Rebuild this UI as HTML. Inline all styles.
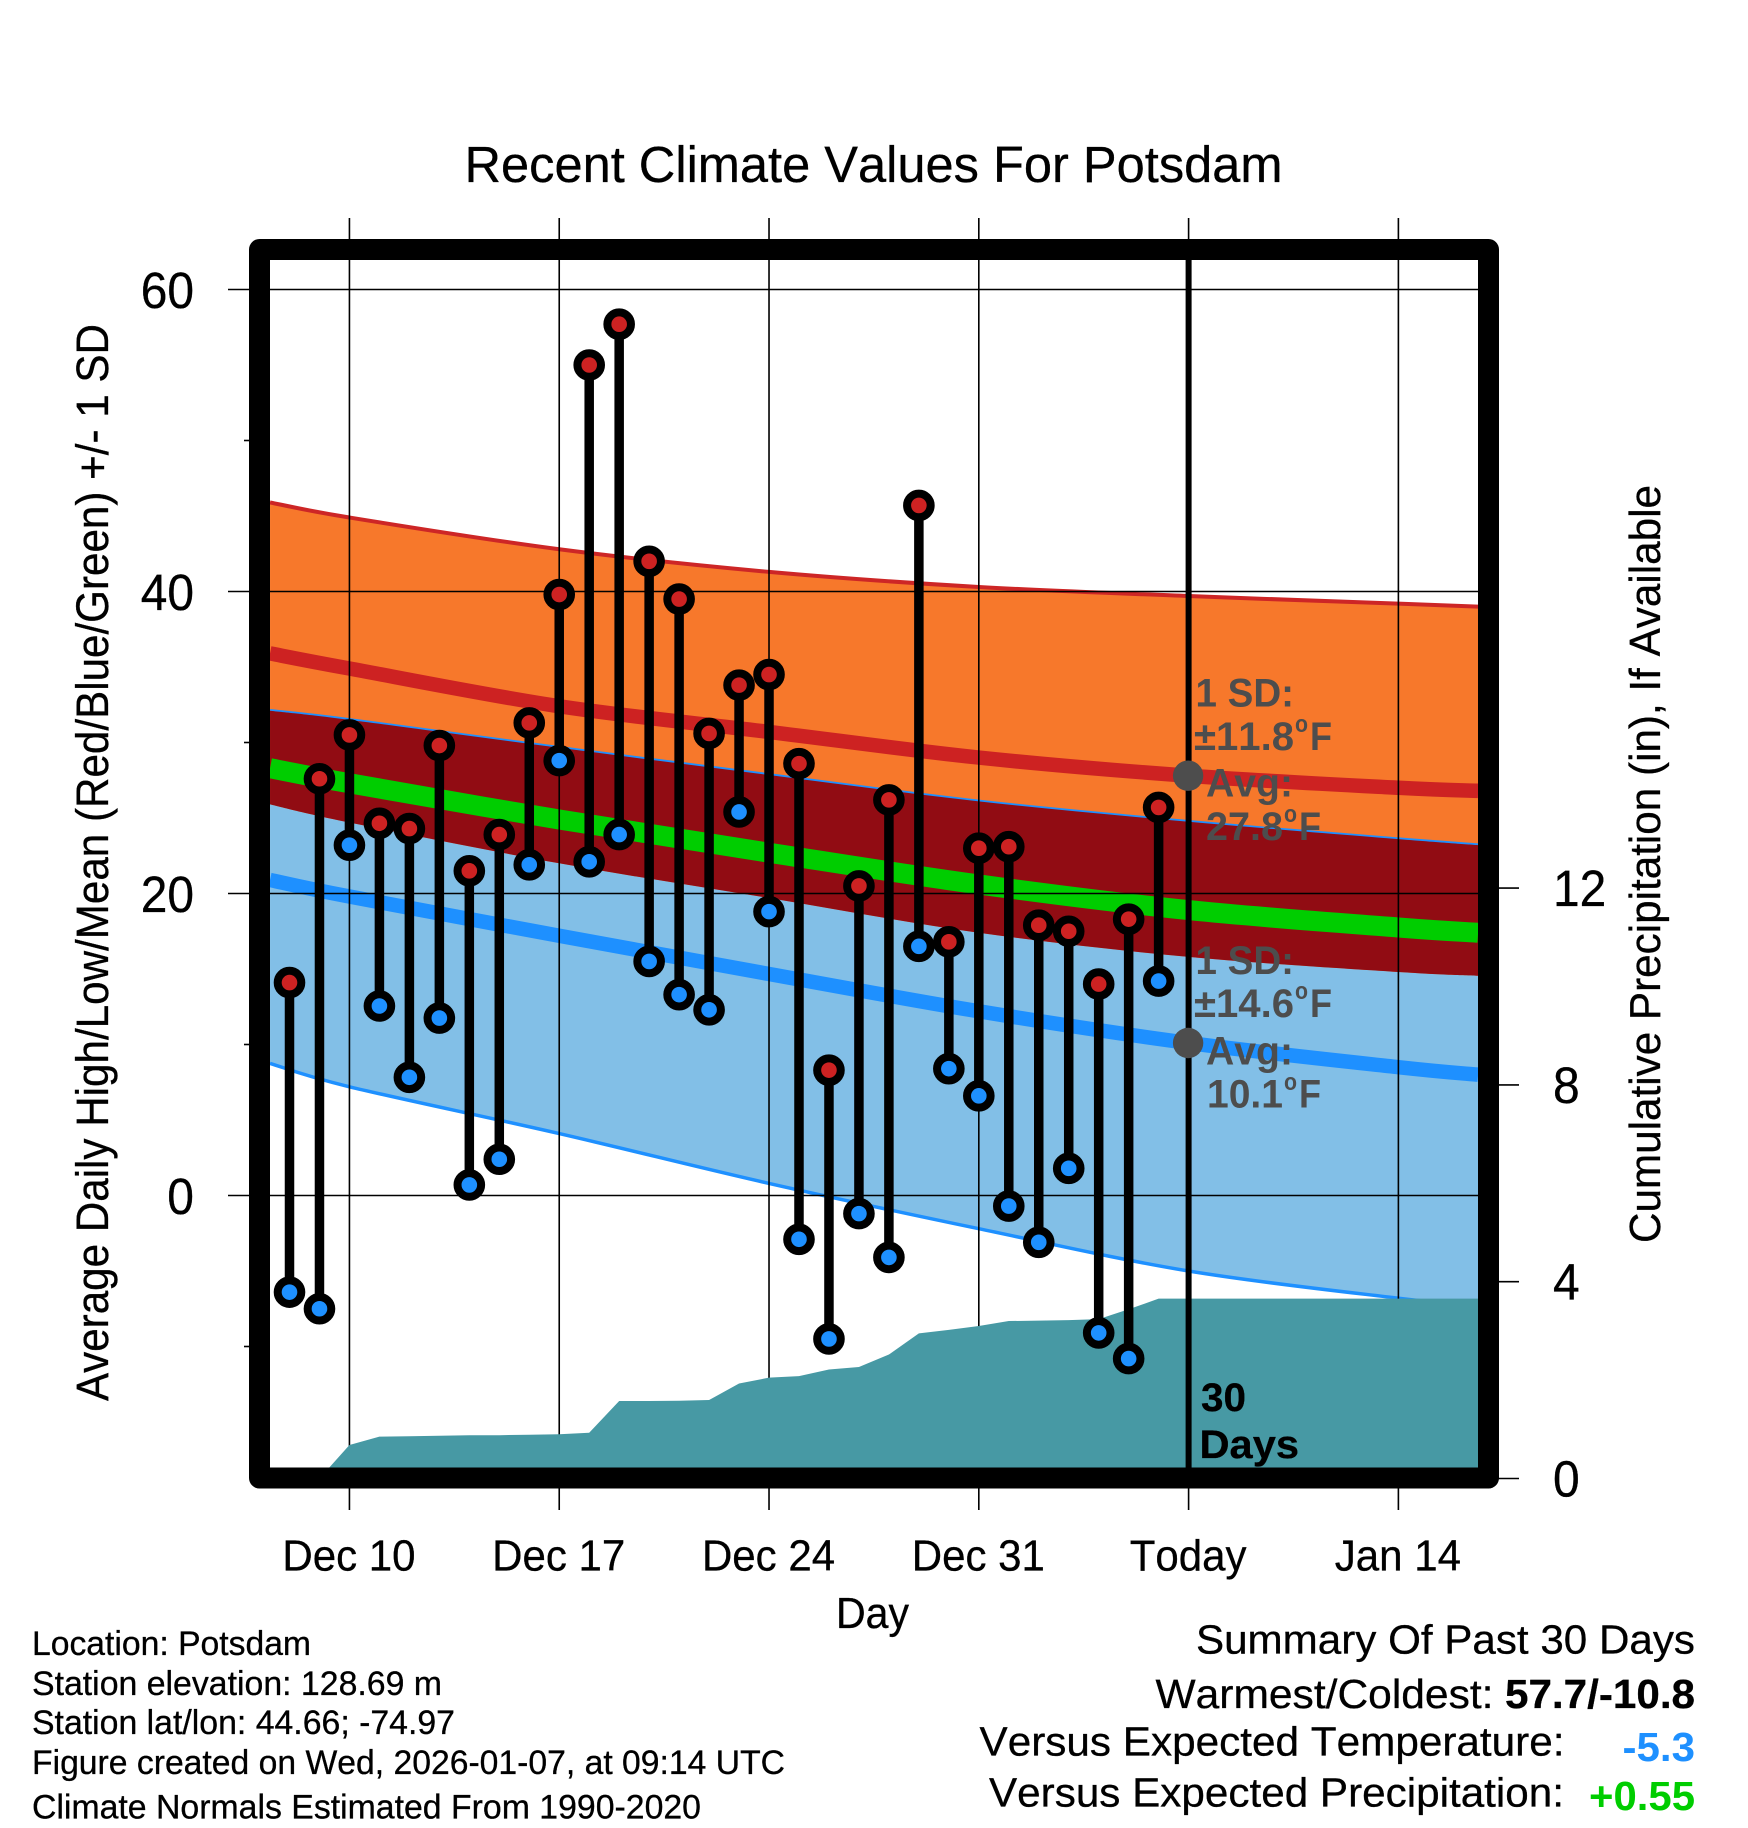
<!DOCTYPE html>
<html lang="en">
<head>
<meta charset="utf-8">
<title>Recent Climate Values For Potsdam</title>
<style>
html,body{margin:0;padding:0;background:#fff;width:1748px;height:1828px;overflow:hidden}
svg{display:block;position:absolute;left:0;top:0}
text{font-family:"Liberation Sans",sans-serif;fill:#000;font-kerning:none;stroke:#000;stroke-width:.3px}
.ann{font-weight:bold;fill:#4d4d4d;stroke:none;font-size:40px}
.sup{font-weight:bold;fill:#4d4d4d;stroke:none;font-size:24px}
.foot{font-size:34px}
.sum{font-size:41px}
</style>
</head>
<body>
<svg id="chart" xmlns="http://www.w3.org/2000/svg" width="1748" height="1828" viewBox="0 0 1748 1828">
  <defs>
    <clipPath id="plot-clip"><rect x="270" y="260" width="1208" height="1207.7"/></clipPath>
  </defs>
  <rect x="0" y="0" width="1748" height="1828" fill="#fff"/>
  <text x="464.5" y="182" font-size="51" textLength="818" lengthAdjust="spacingAndGlyphs">Recent Climate Values For Potsdam</text>

  <g id="layer-bands" clip-path="url(#plot-clip)"></g>
  <g id="layer-grid"></g>
  <g id="layer-precip" clip-path="url(#plot-clip)"></g>
  <g id="layer-today"></g>
  <g id="layer-points"></g>
  <rect x="259.5" y="249.5" width="1229" height="1228.5" fill="none" stroke="#000" stroke-width="21" stroke-linejoin="round"/>
  <g id="layer-ticks"></g>

  <text transform="translate(108,1401) rotate(-90)" x="0" y="0" font-size="45" textLength="1077" lengthAdjust="spacingAndGlyphs">Average Daily High/Low/Mean (Red/Blue/Green) +/- 1 SD</text>
  <text transform="translate(1660,1243) rotate(-90)" x="0" y="0" font-size="44" textLength="758" lengthAdjust="spacingAndGlyphs">Cumulative Precipitation (in), If Available</text>
  <text x="836" y="1628" font-size="44" textLength="73" lengthAdjust="spacingAndGlyphs">Day</text>

  <g>
    <text class="ann" x="1195.5" y="706.7" textLength="98.5" lengthAdjust="spacingAndGlyphs">1 SD:</text>
    <text class="ann" x="1194" y="750" textLength="100" lengthAdjust="spacingAndGlyphs">±11.8</text>
    <text class="sup" x="1295" y="732" textLength="13" lengthAdjust="spacingAndGlyphs">o</text>
    <text class="ann" x="1310" y="750" textLength="22" lengthAdjust="spacingAndGlyphs">F</text>
    <text class="ann" x="1206" y="796.7" textLength="87" lengthAdjust="spacingAndGlyphs">Avg:</text>
    <text class="ann" x="1206" y="840" textLength="77" lengthAdjust="spacingAndGlyphs">27.8</text>
    <text class="sup" x="1284" y="822" textLength="13" lengthAdjust="spacingAndGlyphs">o</text>
    <text class="ann" x="1299" y="840" textLength="22" lengthAdjust="spacingAndGlyphs">F</text>
  </g>
  <g>
    <text class="ann" x="1195.5" y="974" textLength="98.5" lengthAdjust="spacingAndGlyphs">1 SD:</text>
    <text class="ann" x="1194" y="1017" textLength="100" lengthAdjust="spacingAndGlyphs">±14.6</text>
    <text class="sup" x="1295" y="999" textLength="13" lengthAdjust="spacingAndGlyphs">o</text>
    <text class="ann" x="1310" y="1017" textLength="22" lengthAdjust="spacingAndGlyphs">F</text>
    <text class="ann" x="1206" y="1064.3" textLength="87" lengthAdjust="spacingAndGlyphs">Avg:</text>
    <text class="ann" x="1207" y="1107.7" textLength="76" lengthAdjust="spacingAndGlyphs">10.1</text>
    <text class="sup" x="1284" y="1090" textLength="13" lengthAdjust="spacingAndGlyphs">o</text>
    <text class="ann" x="1299" y="1107.7" textLength="22" lengthAdjust="spacingAndGlyphs">F</text>
  </g>
  <text x="1201" y="1411" font-size="40" font-weight="bold" textLength="45" lengthAdjust="spacingAndGlyphs">30</text>
  <text x="1199.5" y="1458" font-size="40" font-weight="bold" textLength="99.5" lengthAdjust="spacingAndGlyphs">Days</text>

  <g>
    <text class="foot" x="32" y="1655" textLength="279" lengthAdjust="spacingAndGlyphs">Location: Potsdam</text>
    <text class="foot" x="32" y="1695" textLength="410" lengthAdjust="spacingAndGlyphs">Station elevation: 128.69 m</text>
    <text class="foot" x="32" y="1734" textLength="423" lengthAdjust="spacingAndGlyphs">Station lat/lon: 44.66; -74.97</text>
    <text class="foot" x="32" y="1774" textLength="753" lengthAdjust="spacingAndGlyphs">Figure created on Wed, 2026-01-07, at 09:14 UTC</text>
    <text class="foot" x="32" y="1818.5" textLength="669" lengthAdjust="spacingAndGlyphs">Climate Normals Estimated From 1990-2020</text>
  </g>
  <g>
    <text class="sum" x="1196" y="1653.5" textLength="499" lengthAdjust="spacingAndGlyphs">Summary Of Past 30 Days</text>
    <text class="sum" x="1155.5" y="1708" textLength="338" lengthAdjust="spacingAndGlyphs">Warmest/Coldest:</text>
    <text class="sum" x="1505" y="1708" font-weight="bold" textLength="190" lengthAdjust="spacingAndGlyphs">57.7/-10.8</text>
    <text class="sum" x="979.5" y="1755.5" textLength="585" lengthAdjust="spacingAndGlyphs">Versus Expected Temperature:</text>
    <text class="sum" x="1622.5" y="1761" font-weight="bold" textLength="72.5" lengthAdjust="spacingAndGlyphs" style="fill:#1e90ff;stroke:none">-5.3</text>
    <text class="sum" x="989" y="1806.5" textLength="575" lengthAdjust="spacingAndGlyphs">Versus Expected Precipitation:</text>
    <text class="sum" x="1589" y="1810" font-weight="bold" textLength="106" lengthAdjust="spacingAndGlyphs" style="fill:#00cd00;stroke:none">+0.55</text>
  </g>
</svg>

<script>
// ---- data ----
var dayLabels = ['Dec 8','Dec 9','Dec 10','Dec 11','Dec 12','Dec 13','Dec 14','Dec 15','Dec 16','Dec 17','Dec 18','Dec 19','Dec 20','Dec 21','Dec 22','Dec 23','Dec 24','Dec 25','Dec 26','Dec 27','Dec 28','Dec 29','Dec 30','Dec 31','Jan 1','Jan 2','Jan 3','Jan 4','Jan 5','Jan 6'];
var dailyHigh = [14.1,27.6,30.5,24.65,24.3,29.8,21.5,23.9,31.3,39.8,55.0,57.7,42.0,39.5,30.6,33.8,34.5,28.6,8.3,20.5,26.2,45.7,16.8,23.0,23.1,17.9,17.5,14.0,18.3,25.7];
var dailyLow = [-6.4,-7.5,23.2,12.55,7.83,11.75,0.7,2.4,21.9,28.8,22.1,23.9,15.5,13.3,12.3,25.4,18.8,-2.9,-9.5,-1.2,-4.1,16.5,8.4,6.6,-0.7,-3.1,1.8,-9.1,-10.8,14.2];
var cumulativePrecip = [0,0,0.68,0.85,0.86,0.87,0.88,0.88,0.89,0.90,0.93,1.575,1.575,1.58,1.595,1.93,2.05,2.08,2.215,2.265,2.52,2.95,3.02,3.10,3.20,3.21,3.22,3.24,3.44,3.655];

// climate normals are sampled at these days, counted from Dec 8
var normalDays = [-0.65,2,9,16,23,30,37,39.66];
var highPlusSD  = [45.9,44.9,42.8,41.3,40.3,39.7,39.2,39.0];
var highMean    = [35.9,34.9,32.4,30.7,29.0,27.8,27.0,26.8];
var highMinusSD = [25.9,24.7,22.0,19.7,17.4,15.8,14.8,14.55];
var lowPlusSD   = [32.1,31.5,29.65,27.85,26.1,24.75,23.6,23.2];
var lowMean     = [20.9,19.8,17.2,14.67,12.2,10.1,8.5,8.0];
var lowMinusSD  = [8.75,7.2,4.1,0.8,-2.2,-5.0,-6.8,-7.3];
var overallMean = [28.3,27.3,24.9,22.7,20.6,18.9,17.75,17.4];

var xTickDays = [2,9,16,23,30,37];
var xTickLabels = ['Dec 10','Dec 17','Dec 24','Dec 31','Today','Jan 14'];
var yMajorTicks = [60,40,20,0];
var yMinorTicks = [50,30,10,-10];
var precipTicks = [12,8,4,0];
var todayDay = 30;
var lastDay = 39.66;
var todayHighAvg = 27.8;
var todayLowAvg = 10.1;

// ---- axis functions ----
function xAxis(day){ return 289.5 + day * 29.97; }
function yAxis(t){ return 1195.5 - t * 15.1; }
function precipAxis(p){ return 1478.5 - p * 49.2; }

var NS = 'http://www.w3.org/2000/svg';
function mk(parentId, tag, attrs){
  var el = document.createElementNS(NS, tag);
  for (var k in attrs) el.setAttribute(k, attrs[k]);
  document.getElementById(parentId).appendChild(el);
  return el;
}
function pts(days, values){
  return days.map(function(d,i){ return [xAxis(d), yAxis(values[i])]; });
}
// smooth path segments through the points (Catmull-Rom)
function curve(p){
  var s = '';
  for (var i = 0; i < p.length - 1; i++){
    var a = p[Math.max(i-1,0)], b = p[i], c = p[i+1], d = p[Math.min(i+2,p.length-1)];
    s += ' C' + (b[0]+(c[0]-a[0])/6).toFixed(2) + ' ' + (b[1]+(c[1]-a[1])/6).toFixed(2) + ' ' +
         (c[0]-(d[0]-b[0])/6).toFixed(2) + ' ' + (c[1]-(d[1]-b[1])/6).toFixed(2) + ' ' +
         c[0].toFixed(2) + ' ' + c[1].toFixed(2);
  }
  return s;
}
function lineD(values){
  var p = pts(normalDays, values);
  return 'M' + p[0][0] + ' ' + p[0][1] + curve(p);
}
function bandD(upper, lower){
  var u = pts(normalDays, upper), l = pts(normalDays, lower).reverse();
  return 'M' + u[0][0] + ' ' + u[0][1] + curve(u) + ' L' + l[0][0] + ' ' + l[0][1] + curve(l) + ' Z';
}

// ---- bands ----
var lowBand = mk('layer-bands','path',{d:bandD(lowPlusSD,lowMinusSD),fill:'#82bfe7'});


var lowBottom = mk('layer-bands','path',{d:lineD(lowMinusSD),fill:'none',stroke:'#1e90ff','stroke-width':3.5});


var highBand = mk('layer-bands','path',{d:bandD(highPlusSD,highMinusSD),fill:'#f7782b'});


var highTop = mk('layer-bands','path',{d:lineD(highPlusSD),fill:'none',stroke:'#cd2626','stroke-width':4});


var lowTop = mk('layer-bands','path',{d:lineD(lowPlusSD),fill:'none',stroke:'#1e90ff','stroke-width':3.5});


var overlap = mk('layer-bands','path',{d:bandD(lowPlusSD,highMinusSD),fill:'#910c13'});


var highAvg = mk('layer-bands','path',{d:lineD(highMean),fill:'none',stroke:'#cd2222','stroke-width':14.5});


var lowAvg = mk('layer-bands','path',{d:lineD(lowMean),fill:'none',stroke:'#1e90ff','stroke-width':14.5});


var allAvg = mk('layer-bands','path',{d:lineD(overallMean),fill:'none',stroke:'#00cd00','stroke-width':20});



// ---- grid, ticks and tick labels ----
function squeezedLabel(parent, str, x, y, anchor, size, factor){
  var t = mk(parent,'text',{x:x,y:y,'text-anchor':anchor,'font-size':size});
  t.textContent = str;
  t.setAttribute('textLength', (t.getComputedTextLength() * factor).toFixed(1));
  t.setAttribute('lengthAdjust', 'spacingAndGlyphs');
  return t;
}
xTickDays.forEach(function(d,i){
  var g = mk('layer-grid','line',{x1:xAxis(d),x2:xAxis(d),y1:218,y2:1510,stroke:'#000','stroke-width':1.6});
  
  
  var t = squeezedLabel('layer-ticks', xTickLabels[i], xAxis(d)-0.5, 1570.5, 'middle', 44, 0.955);
  
  
});
yMajorTicks.forEach(function(v){
  var g = mk('layer-grid','line',{x1:228,x2:1478,y1:yAxis(v),y2:yAxis(v),stroke:'#000','stroke-width':1.6});
  
  
  var t = squeezedLabel('layer-ticks', String(v), 194, yAxis(v)+18.5, 'end', 51, 0.94);
  
  
});
yMinorTicks.forEach(function(v){
  var m = mk('layer-ticks','line',{x1:244,x2:250,y1:yAxis(v),y2:yAxis(v),stroke:'#000','stroke-width':1.6});
  
  
});
precipTicks.forEach(function(v){
  var m = mk('layer-ticks','line',{x1:1498,x2:1519,y1:precipAxis(v),y2:precipAxis(v),stroke:'#000','stroke-width':1.6});
  
  
  var t = squeezedLabel('layer-ticks', String(v), 1553, precipAxis(v)+18, 'start', 51, 0.94);
  
  
});

// ---- precipitation area ----
(function(){
  var d = 'M' + xAxis(0) + ' ' + precipAxis(0);
  cumulativePrecip.forEach(function(p,i){ d += ' L' + xAxis(i).toFixed(2) + ' ' + precipAxis(p).toFixed(2); });
  d += ' L' + xAxis(lastDay) + ' ' + precipAxis(cumulativePrecip[cumulativePrecip.length-1]);
  d += ' L' + xAxis(lastDay) + ' ' + precipAxis(0) + ' Z';
  var area = mk('layer-precip','path',{d:d,fill:'#4799a4'});
  
  
})();

// ---- today marker ----
var todayLine = mk('layer-today','line',{x1:xAxis(todayDay),x2:xAxis(todayDay),y1:260,y2:1468,stroke:'#000','stroke-width':6});


var todayHighDot = mk('layer-today','circle',{cx:xAxis(todayDay)-0.5,cy:yAxis(todayHighAvg),r:15.2,fill:'#4d4d4d'});


var todayLowDot = mk('layer-today','circle',{cx:xAxis(todayDay)-0.5,cy:yAxis(todayLowAvg),r:15.2,fill:'#4d4d4d'});



// ---- daily stems and markers ----
dayLabels.forEach(function(label,i){
  var x = xAxis(i);
  var stem = mk('layer-points','line',{x1:x,x2:x,y1:yAxis(dailyHigh[i]),y2:yAxis(dailyLow[i]),stroke:'#000','stroke-width':9.5});
  
  
});
dayLabels.forEach(function(label,i){
  var x = xAxis(i);
  var lo = mk('layer-points','circle',{cx:x,cy:yAxis(dailyLow[i]),r:11.8,fill:'#1e90ff',stroke:'#000','stroke-width':8});
  
  
  var hi = mk('layer-points','circle',{cx:x,cy:yAxis(dailyHigh[i]),r:11.8,fill:'#cd2222',stroke:'#000','stroke-width':8});
  
  
});
</script>
</body>
</html>
